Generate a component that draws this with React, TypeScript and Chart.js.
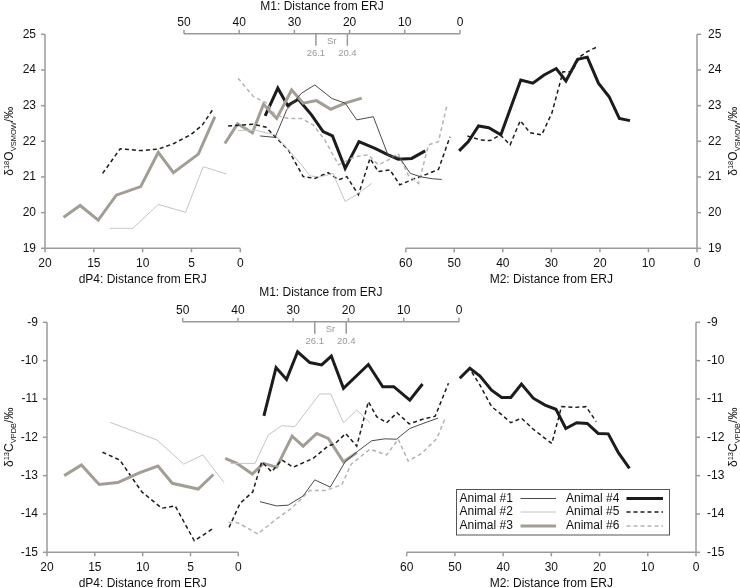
import React, { useEffect, useRef } from 'react';
import { Chart, registerables } from 'chart.js';
Chart.register(...registerables);

const FONT = "'Liberation Sans', Arial, sans-serif";

// ---------- tick labels ----------
const dP4Ticks = [20, 15, 10, 5, 0];
const m1Ticks = [50, 40, 30, 20, 10, 0];
const m2Ticks = [60, 50, 40, 30, 20, 10, 0];
const oTicks = [19, 20, 21, 22, 23, 24, 25];
const cTicks = [-15, -14, -13, -12, -11, -10, -9];
const srMarks = [26.1, 20.4];
const animalNames = ['Animal #1', 'Animal #2', 'Animal #3', 'Animal #4', 'Animal #5', 'Animal #6'];

// ---------- δ18O : dP4 ----------
const O_dP4_a2_dist = [13.4, 11.0, 8.4, 5.6, 3.8, 1.4];
const O_dP4_a2_val = [19.56, 19.56, 20.23, 20.01, 21.29, 21.08];
const O_dP4_a3_dist = [18.1, 16.4, 14.55, 12.7, 10.2, 8.4, 6.85, 4.3, 2.6];
const O_dP4_a3_val = [19.87, 20.2, 19.79, 20.49, 20.73, 21.69, 21.12, 21.64, 22.69];
const O_dP4_a5_dist = [14.1, 12.3, 10.2, 8.4, 6.8, 5.1, 3.9, 2.8];
const O_dP4_a5_val = [21.1, 21.79, 21.74, 21.78, 21.94, 22.18, 22.45, 22.9];

// ---------- δ18O : M1 ----------
const O_M1_a1_dist = [36.2, 33.5, 31.4, 28.7, 26.3, 23.2, 20.8, 18.7, 15.7, 13.0, 11.0, 9.0, 7.0, 5.0, 3.3];
const O_M1_a1_val = [22.15, 22.11, 22.88, 23.35, 23.58, 23.2, 23.07, 22.6, 22.69, 21.6, 21.55, 21.1, 21.0, 20.95, 20.93];
const O_M1_a2_dist = [40.2, 37.1, 33.5, 31.1, 28.7, 27.2, 25.4, 23.0, 20.8, 18.4, 16.0];
const O_M1_a2_val = [22.3, 22.31, 22.18, 21.76, 21.34, 21.03, 21.0, 21.1, 20.31, 20.54, 20.82];
const O_M1_a3_dist = [42.6, 40.3, 37.6, 35.6, 33.2, 30.5, 28.4, 26.0, 23.4, 20.8, 17.8];
const O_M1_a3_val = [21.94, 22.49, 22.24, 23.04, 22.64, 23.44, 23.07, 23.14, 22.9, 23.07, 23.21];
const O_M1_a4_dist = [35.3, 33.0, 31.2, 29.3, 26.9, 24.8, 23.1, 20.8, 18.3, 15.4, 13.0, 11.2, 8.75, 6.3];
const O_M1_a4_val = [22.71, 23.49, 23.0, 23.18, 22.74, 22.27, 22.15, 21.24, 21.99, 21.8, 21.62, 21.5, 21.52, 21.73];
const O_M1_a5_dist = [42.0, 37.5, 35.2, 33.5, 31.1, 28.4, 26.3, 23.9, 22.0, 20.5, 18.4, 16.3, 14.8, 12.7, 10.9, 8.75, 6.3, 3.9, 1.8];
const O_M1_a5_val = [22.43, 22.48, 22.4, 22.13, 21.76, 21.01, 20.96, 21.12, 20.92, 21.01, 20.5, 21.52, 21.15, 21.2, 20.78, 20.92, 21.06, 21.21, 22.13];
const O_M1_a6_dist = [40.2, 37.4, 35.0, 33.5, 31.1, 28.7, 26.6, 24.5, 22.0, 19.0, 16.6, 14.8, 13.0, 11.2, 9.4, 7.5, 5.7, 3.9, 2.3];
const O_M1_a6_val = [23.77, 23.25, 23.07, 22.74, 22.64, 22.64, 22.46, 22.04, 21.34, 21.57, 21.62, 21.34, 21.48, 21.66, 21.06, 20.82, 21.9, 21.99, 23.05];

// ---------- δ18O : M2 ----------
const O_M2_a4_dist = [49.0, 47.1, 45.0, 42.9, 40.4, 36.3, 33.8, 31.5, 29.0, 27.0, 24.6, 22.6, 20.3, 18.1, 16.0, 13.8];
const O_M2_a4_val = [21.73, 21.99, 22.43, 22.38, 22.18, 23.72, 23.63, 23.86, 24.04, 23.69, 24.3, 24.36, 23.63, 23.25, 22.64, 22.58];
const O_M2_a5_dist = [47.3, 44.6, 42.6, 40.5, 38.5, 36.4, 34.4, 32.0, 29.9, 27.6, 25.8, 24.1, 22.7, 20.5];
const O_M2_a5_val = [22.15, 22.04, 22.02, 22.18, 21.9, 22.58, 22.24, 22.18, 22.79, 23.95, 23.95, 24.37, 24.51, 24.65];

// ---------- δ13C : dP4 ----------
const C_dP4_a2_dist = [13.4, 8.5, 5.7, 3.7, 1.5];
const C_dP4_a2_val = [-11.61, -12.07, -12.7, -12.46, -13.18];
const C_dP4_a3_dist = [18.2, 16.4, 14.55, 12.6, 10.3, 8.4, 6.9, 4.2, 2.6];
const C_dP4_a3_val = [-13.0, -12.72, -13.23, -13.18, -12.92, -12.75, -13.2, -13.35, -12.97];
const C_dP4_a5_dist = [14.2, 12.4, 10.1, 8.0, 6.6, 4.6, 2.7];
const C_dP4_a5_val = [-12.39, -12.59, -13.42, -13.85, -13.79, -14.7, -14.39];

// ---------- δ13C : M1 ----------
const C_M1_a1_dist = [36.0, 33.0, 30.9, 28.2, 26.1, 23.3, 20.6, 18.2, 15.8, 13.4, 11.3, 8.9, 6.5, 3.8];
const C_M1_a1_val = [-13.68, -13.79, -13.77, -13.53, -13.11, -13.3, -12.64, -12.35, -12.09, -12.04, -12.05, -11.77, -11.64, -11.5];
const C_M1_a2_dist = [41.4, 36.9, 34.5, 32.1, 29.7, 25.2, 23.2, 20.9, 18.5, 16.1];
const C_M1_a2_val = [-12.68, -12.68, -11.94, -11.7, -11.72, -10.87, -10.87, -11.62, -11.29, -11.62];
const C_M1_a3_dist = [42.3, 40.2, 37.4, 35.4, 33.0, 30.2, 28.2, 25.75, 23.65, 20.9, 18.5];
const C_M1_a3_val = [-12.55, -12.68, -12.96, -12.68, -12.78, -11.97, -12.23, -11.9, -12.03, -12.64, -12.4];
const C_M1_a4_dist = [35.3, 33.1, 31.2, 29.2, 27.0, 24.85, 23.1, 20.9, 16.4, 13.8, 11.8, 8.9, 6.6];
const C_M1_a4_val = [-11.44, -10.18, -10.49, -9.77, -10.05, -10.11, -9.88, -10.72, -10.1, -10.68, -10.68, -11.03, -10.61];
const C_M1_a5_dist = [41.6, 39.6, 37.3, 35.7, 33.9, 32.1, 30.0, 26.4, 23.7, 22.4, 20.5, 18.5, 16.4, 14.9, 13.1, 11.2, 9.0, 6.6, 4.3, 1.9];
const C_M1_a5_val = [-14.35, -13.72, -13.42, -12.64, -12.9, -12.59, -12.78, -12.55, -12.23, -12.16, -11.9, -12.23, -11.07, -11.46, -11.62, -11.36, -11.65, -11.53, -11.45, -10.59];
const C_M1_a6_dist = [41.7, 40.0, 36.4, 33.3, 30.3, 27.0, 24.2, 21.2, 19.5, 16.1, 13.1, 11.0, 9.2, 6.75, 4.0, 2.5];
const C_M1_a6_val = [-14.22, -14.23, -14.52, -14.16, -13.85, -13.39, -13.39, -13.24, -12.7, -12.31, -12.46, -12.05, -12.62, -12.42, -12.03, -11.5];

// ---------- δ13C : M2 ----------
const C_M2_a4_dist = [49.0, 46.9, 44.8, 42.4, 40.3, 38.4, 36.2, 33.75, 31.3, 29.05, 27.0, 24.75, 22.55, 20.3, 18.2, 16.1, 13.8];
const C_M2_a4_val = [-10.46, -10.2, -10.4, -10.77, -10.96, -10.96, -10.61, -10.98, -11.16, -11.27, -11.77, -11.62, -11.64, -11.9, -11.91, -12.4, -12.81];
const C_M2_a5_dist = [46.5, 44.8, 42.4, 40.5, 38.4, 36.2, 33.75, 31.3, 29.9, 27.9, 25.1, 22.8, 20.7];
const C_M2_a5_val = [-10.3, -10.64, -11.2, -11.39, -11.62, -11.5, -11.79, -12.03, -12.16, -11.2, -11.22, -11.2, -11.59];

// ---------- styles ----------
const STYLE: Record<number, { color: string; width: number; dash: number[] }> = {
  1: { color: '#4a4a4a', width: 1, dash: [] },
  2: { color: '#c4c4c4', width: 1, dash: [] },
  3: { color: '#a39e95', width: 3, dash: [] },
  4: { color: '#1c1c1c', width: 3, dash: [] },
  5: { color: '#1c1c1c', width: 1.5, dash: [4, 3] },
  6: { color: '#b4b4b4', width: 1.5, dash: [4, 3] },
};
const AXIS_COLOR = '#9a9a9a';

function ds(animal: number, axis: string, dist: number[], val: number[]) {
  const s = STYLE[animal];
  return {
    label: animalNames[animal - 1],
    data: dist.map((d, i) => ({ x: d, y: val[i] })),
    xAxisID: axis,
    yAxisID: 'y',
    borderColor: s.color,
    borderWidth: s.width,
    borderDash: s.dash,
    pointRadius: 0,
    fill: false,
    tension: 0,
    borderJoinStyle: 'miter' as const,
  };
}

const topDatasets = [
  ds(2, 'xd', O_dP4_a2_dist, O_dP4_a2_val),
  ds(3, 'xd', O_dP4_a3_dist, O_dP4_a3_val),
  ds(5, 'xd', O_dP4_a5_dist, O_dP4_a5_val),
  ds(1, 'xm1', O_M1_a1_dist, O_M1_a1_val),
  ds(2, 'xm1', O_M1_a2_dist, O_M1_a2_val),
  ds(6, 'xm1', O_M1_a6_dist, O_M1_a6_val),
  ds(5, 'xm1', O_M1_a5_dist, O_M1_a5_val),
  ds(3, 'xm1', O_M1_a3_dist, O_M1_a3_val),
  ds(4, 'xm1', O_M1_a4_dist, O_M1_a4_val),
  ds(5, 'xm2', O_M2_a5_dist, O_M2_a5_val),
  ds(4, 'xm2', O_M2_a4_dist, O_M2_a4_val),
];

const bottomDatasets = [
  ds(2, 'xd', C_dP4_a2_dist, C_dP4_a2_val),
  ds(3, 'xd', C_dP4_a3_dist, C_dP4_a3_val),
  ds(5, 'xd', C_dP4_a5_dist, C_dP4_a5_val),
  ds(1, 'xm1', C_M1_a1_dist, C_M1_a1_val),
  ds(2, 'xm1', C_M1_a2_dist, C_M1_a2_val),
  ds(6, 'xm1', C_M1_a6_dist, C_M1_a6_val),
  ds(5, 'xm1', C_M1_a5_dist, C_M1_a5_val),
  ds(3, 'xm1', C_M1_a3_dist, C_M1_a3_val),
  ds(4, 'xm1', C_M1_a4_dist, C_M1_a4_val),
  ds(5, 'xm2', C_M2_a5_dist, C_M2_a5_val),
  ds(4, 'xm2', C_M2_a4_dist, C_M2_a4_val),
];

type Part = [string, 'n' | 'sup' | 'sub'];
const topTitle: Part[] = [['δ', 'n'], ['18', 'sup'], ['O', 'n'], ['VSMOW', 'sub'], ['/‰', 'n']];
const bottomTitle: Part[] = [['δ', 'n'], ['13', 'sup'], ['C', 'n'], ['VPDB', 'sub'], ['/‰', 'n']];

interface PanelCfg {
  top: number;
  height: number;
  padding: { left: number; right: number; top: number; bottom: number };
  xd: [number, number];
  xm1: [number, number];
  xm2: [number, number];
  y: [number, number];
  yTicks: number[];
  title: Part[];
  legend: boolean;
  datasets: any[];
}

function drawRich(ctx: CanvasRenderingContext2D, parts: Part[], cx: number, cy: number) {
  const fontFor = (k: string) => (k === 'n' ? `12px ${FONT}` : `7.5px ${FONT}`);
  let total = 0;
  const widths = parts.map(([t, k]) => {
    ctx.font = fontFor(k);
    const w = ctx.measureText(t).width;
    total += w;
    return w;
  });
  ctx.save();
  ctx.translate(cx, cy);
  ctx.rotate(-Math.PI / 2);
  ctx.fillStyle = '#111';
  ctx.textAlign = 'left';
  ctx.textBaseline = 'alphabetic';
  let x = -total / 2;
  parts.forEach(([t, k], i) => {
    ctx.font = fontFor(k);
    const dy = k === 'sup' ? -4.5 : k === 'sub' ? 2.5 : 0;
    ctx.fillText(t, x, 4 + dy);
    x += widths[i];
  });
  ctx.restore();
}

function makePlugin(cfg: PanelCfg) {
  return {
    id: 'customAxes',
    afterDraw(chart: any) {
      const ctx: CanvasRenderingContext2D = chart.ctx;
      const { left, right, top, bottom } = chart.chartArea;
      const s = chart.scales;
      const line = (x1: number, y1: number, x2: number, y2: number) => {
        ctx.beginPath();
        ctx.moveTo(x1, y1);
        ctx.lineTo(x2, y2);
        ctx.stroke();
      };
      ctx.save();
      ctx.strokeStyle = AXIS_COLOR;
      ctx.lineWidth = 1.5;
      ctx.setLineDash([]);
      ctx.fillStyle = '#111';
      ctx.font = `12px ${FONT}`;

      // left & right y axes
      line(left, top, left, bottom);
      line(right, top, right, bottom);
      cfg.yTicks.forEach((v) => {
        const py = s.y.getPixelForValue(v);
        line(left - 4, py, left, py);
        line(right, py, right + 4, py);
        ctx.textBaseline = 'middle';
        ctx.textAlign = 'right';
        ctx.fillText(String(v), left - 9, py);
        ctx.textAlign = 'left';
        ctx.fillText(String(v), right + 11, py);
      });

      // bottom axes: dP4 and M2
      const bottomAxis = (scale: any, ticks: number[], title: string) => {
        const a = scale.getPixelForValue(ticks[0]);
        const b = scale.getPixelForValue(ticks[ticks.length - 1]);
        line(a, bottom, b, bottom);
        ctx.textAlign = 'center';
        ctx.textBaseline = 'middle';
        ticks.forEach((v) => {
          const px = scale.getPixelForValue(v);
          line(px, bottom, px, bottom + 4);
          ctx.fillText(String(v), px, bottom + 15);
        });
        ctx.fillText(title, (a + b) / 2, bottom + 31);
      };
      bottomAxis(s.xd, dP4Ticks, 'dP4: Distance from ERJ');
      bottomAxis(s.xm2, m2Ticks, 'M2: Distance from ERJ');

      // top axis: M1
      const ay = top - 0.5;
      const m1a = s.xm1.getPixelForValue(m1Ticks[0]);
      const m1b = s.xm1.getPixelForValue(m1Ticks[m1Ticks.length - 1]);
      line(m1a, ay, m1b, ay);
      ctx.textAlign = 'center';
      ctx.textBaseline = 'middle';
      m1Ticks.forEach((v) => {
        const px = s.xm1.getPixelForValue(v);
        line(px, ay, px, ay - 4);
        ctx.fillText(String(v), px, ay - 11.5);
      });
      ctx.fillText('M1: Distance from ERJ', (m1a + m1b) / 2, Math.max(ay - 29, 6.5));

      // Sr markers
      const srX = srMarks.map((v) => s.xm1.getPixelForValue(v));
      srX.forEach((px) => line(px, ay, px, ay + 12));
      ctx.fillStyle = '#999';
      ctx.font = `9.5px ${FONT}`;
      ctx.fillText('Sr', (srX[0] + srX[1]) / 2, ay + 8);
      srMarks.forEach((v, i) => ctx.fillText(v.toFixed(1), srX[i], ay + 19.5));

      // y titles
      const cy = (top + bottom) / 2;
      drawRich(ctx, cfg.title, 9, cy);
      drawRich(ctx, cfg.title, 733, cy);

      // legend
      if (cfg.legend) {
        const bx = 456.5, by = 209.5, bw = 213, bh = 45.5;
        ctx.setLineDash([]);
        ctx.strokeStyle = '#555';
        ctx.lineWidth = 1;
        ctx.fillStyle = '#fff';
        ctx.fillRect(bx, by, bw, bh);
        ctx.strokeRect(bx, by, bw, bh);
        const rows = [218.5, 232, 246];
        ctx.font = `12px ${FONT}`;
        ctx.textAlign = 'left';
        ctx.textBaseline = 'middle';
        [1, 2, 3, 4, 5, 6].forEach((a, i) => {
          const col = i < 3 ? 0 : 1;
          const ry = rows[i % 3];
          const tx = col === 0 ? 459.5 : 566;
          const lx1 = col === 0 ? 520.5 : 626.5;
          const lx2 = col === 0 ? 556 : 663;
          ctx.fillStyle = '#111';
          ctx.fillText(animalNames[a - 1], tx, ry);
          const st = STYLE[a];
          ctx.strokeStyle = st.color;
          ctx.lineWidth = st.width;
          ctx.setLineDash(st.dash);
          line(lx1, ry, lx2, ry);
        });
      }
      ctx.restore();
    },
  };
}

const topCfg: PanelCfg = {
  top: 0,
  height: 294,
  padding: { left: 45, right: 43, top: 34.3, bottom: 45.7 },
  xd: [-46.77, 20],
  xm1: [-42.94, 75.18],
  xm2: [0, 134.3],
  y: [19, 25],
  yTicks: oTicks,
  title: topTitle,
  legend: false,
  datasets: topDatasets,
};

const bottomCfg: PanelCfg = {
  top: 280,
  height: 308,
  padding: { left: 47, right: 44, top: 42.3, bottom: 35.7 },
  xd: [-47.85, 20],
  xm1: [-42.89, 74.55],
  xm2: [0, 134.6],
  y: [-15, -9],
  yTicks: cTicks,
  title: bottomTitle,
  legend: true,
  datasets: bottomDatasets,
};

function Panel({ cfg }: { cfg: PanelCfg }) {
  const ref = useRef<HTMLCanvasElement>(null);
  useEffect(() => {
    const chart = new Chart(ref.current as HTMLCanvasElement, {
      type: 'line',
      data: { datasets: cfg.datasets },
      options: {
        animation: false,
        responsive: false,
        devicePixelRatio: 1,
        events: [],
        layout: { padding: cfg.padding },
        plugins: { legend: { display: false }, tooltip: { enabled: false } },
        scales: {
          xd: { type: 'linear', axis: 'x', display: false, reverse: true, min: cfg.xd[0], max: cfg.xd[1] },
          xm1: { type: 'linear', axis: 'x', display: false, reverse: true, min: cfg.xm1[0], max: cfg.xm1[1] },
          xm2: { type: 'linear', axis: 'x', display: false, reverse: true, min: cfg.xm2[0], max: cfg.xm2[1] },
          y: { type: 'linear', axis: 'y', display: false, min: cfg.y[0], max: cfg.y[1] },
        },
      } as any,
      plugins: [makePlugin(cfg)],
    });
    return () => chart.destroy();
  }, []);
  return (
    <canvas
      ref={ref}
      width={740}
      height={cfg.height}
      style={{ position: 'absolute', left: 0, top: cfg.top, width: 740, height: cfg.height }}
    />
  );
}

export default function App() {
  return (
    <div style={{ position: 'absolute', left: 0, top: 0, width: 740, height: 588, background: '#fff' }}>
      <Panel cfg={topCfg} />
      <Panel cfg={bottomCfg} />
    </div>
  );
}
